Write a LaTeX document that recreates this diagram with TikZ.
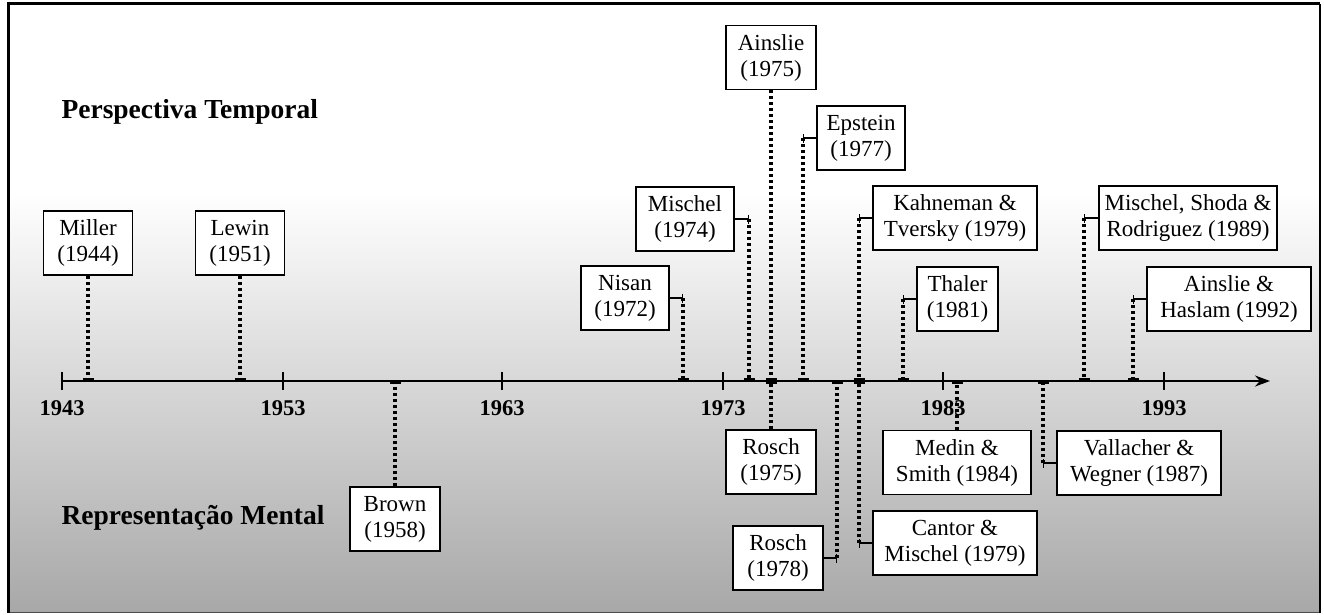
\documentclass[tikz,border=0pt]{standalone}
\usepackage{fontspec}
\setmainfont{Liberation Serif}
\usetikzlibrary{arrows.meta}

\begin{document}
\begin{tikzpicture}[x=1pt,y=-1pt,
  box/.style={draw=black, line width=1.6pt, fill=white, align=center,
    font=\fontsize{23}{26}\selectfont, minimum height=64pt, inner xsep=2pt, inner ysep=2pt},
  yearlbl/.style={font=\fontsize{22.5}{24}\selectfont\bfseries},
  section/.style={font=\fontsize{27.5}{30}\selectfont\bfseries, anchor=west},
  dots/.style={line width=3.3pt, dash pattern=on 3pt off 3pt},
  toaxis/.style={dots, -{Bar[width=11pt,line width=2.8pt]}},
  stub/.style={line width=1.3pt, -{Bar[width=9pt,line width=1.3pt]}},
  tick/.style={line width=1.4pt},
]
\useasboundingbox (0,0) rectangle (1324,614);

% background: white upper band, grey gradient below
\fill[white] (0,0) rectangle (1324,614);
\shade[top color=white, bottom color={rgb,255:red,168;green,168;blue,168}]
  (10,192) rectangle (1319,612);

% frame
\draw[gray!60!black, line width=1.5pt] (8.5,612.5) -- (1320,612.5);
\draw[line width=3pt] (8.5,612.5) -- (8.5,3.5) -- (1320,3.5);
\draw[line width=2.5pt] (1320,3.5) -- (1320,612.5);

% section titles
\node[section] (pt) at (58,112) {Perspectiva Temporal};
\node[section] (rm) at (58,518) {Representação Mental};

% time axis
\coordinate (axstart) at (62,381);
\coordinate (axend) at (1270,381);
\draw[line width=1.8pt, -{Stealth[length=15pt,width=11pt]}] (axstart) -- (axend);
\foreach \yr/\xx in {1943/62,1953/283,1963/502,1973/723,1983/943,1993/1164}{
  \draw[tick] (\xx,372) -- (\xx,390);
  \node[yearlbl] (y\yr) at (\xx,408) {\yr};
}

% points on the axis
\coordinate (a1944) at (88,381);
\coordinate (a1951) at (240,381);
\coordinate (a1958) at (395,381);
\coordinate (a1972) at (683,381);
\coordinate (a1974) at (749,381);
\coordinate (a1975) at (771,381);
\coordinate (a1977) at (803,381);
\coordinate (a1978) at (837,381);
\coordinate (a1979) at (859,381);
\coordinate (a1981) at (903,381);
\coordinate (a1984) at (957,381);
\coordinate (a1987) at (1043,381);
\coordinate (a1989) at (1084,381);
\coordinate (a1992) at (1133,381);

% boxes above the axis
\node[box, minimum width=89pt] (miller) at (88,243) {Miller\\(1944)};
\node[box, minimum width=89pt] (lewin) at (240,243) {Lewin\\(1951)};
\node[box, minimum width=88pt] (nisan) at (625,298) {Nisan\\(1972)};
\node[box, minimum width=98pt] (mischel) at (685,219) {Mischel\\(1974)};
\node[box, minimum width=90pt] (ainslie) at (771,57.5) {Ainslie\\(1975)};
\node[box, minimum width=88pt] (epstein) at (861,138) {Epstein\\(1977)};
\node[box, minimum width=164pt] (kahneman) at (955,218) {Kahneman \&\\Tversky (1979)};
\node[box, minimum width=81pt] (thaler) at (957.5,299) {Thaler\\(1981)};
\node[box, minimum width=178pt] (msr) at (1188,218) {Mischel, Shoda \&\\Rodriguez (1989)};
\node[box, minimum width=164pt] (haslam) at (1229,299) {Ainslie \&\\Haslam (1992)};

% boxes below the axis
\node[box, minimum width=90pt] (brown) at (395,519) {Brown\\(1958)};
\node[box, minimum width=90pt] (rosch75) at (771,462) {Rosch\\(1975)};
\node[box, minimum width=90pt] (rosch78) at (778,558) {Rosch\\(1978)};
\node[box, minimum width=164pt] (cantor) at (955,543) {Cantor \&\\Mischel (1979)};
\node[box, minimum width=148pt] (medin) at (957,462.5) {Medin \&\\Smith (1984)};
\node[box, minimum width=164pt] (vallacher) at (1139,463) {Vallacher \&\\Wegner (1987)};

% elbow points where side stubs meet the dotted lines
\coordinate (c1972) at (a1972 |- nisan.east);
\coordinate (c1974) at (a1974 |- mischel.east);
\coordinate (c1977) at (a1977 |- epstein.west);
\coordinate (c1978) at (a1978 |- rosch78.east);
\coordinate (c1979t) at (a1979 |- kahneman.west);
\coordinate (c1979b) at (a1979 |- cantor.west);
\coordinate (c1981) at (a1981 |- thaler.west);
\coordinate (c1987) at (a1987 |- vallacher.west);
\coordinate (c1989) at (a1989 |- msr.west);
\coordinate (c1992) at (a1992 |- haslam.west);

% straight connectors
\draw[toaxis] (miller.south) -- (a1944);
\draw[toaxis] (lewin.south) -- (a1951);
\draw[toaxis] (brown.north) -- (a1958);
\draw[toaxis] (ainslie.south) -- (a1975);
\draw[toaxis] (rosch75.north) -- (a1975);
\draw[toaxis] (medin.north -| a1984) -- (a1984);

% elbow connectors: solid stub from the box, dotted drop to the axis
\foreach \b/\c/\a in {nisan.east/c1972/a1972, mischel.east/c1974/a1974,
    epstein.west/c1977/a1977, rosch78.east/c1978/a1978,
    kahneman.west/c1979t/a1979, cantor.west/c1979b/a1979,
    thaler.west/c1981/a1981, vallacher.west/c1987/a1987,
    msr.west/c1989/a1989, haslam.west/c1992/a1992}{
  \draw[stub] (\b) -- (\c);
  \draw[toaxis] (\c) -- (\a);
}
\end{tikzpicture}
\end{document}
